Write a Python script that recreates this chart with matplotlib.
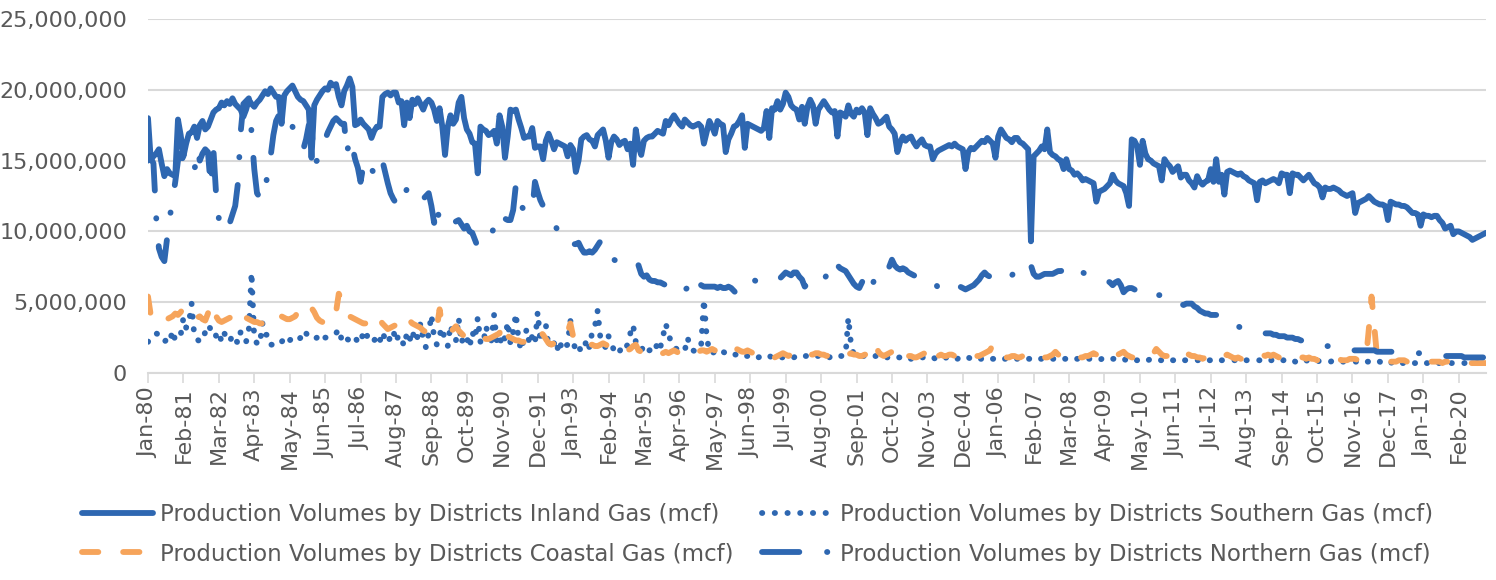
import numpy as np
import pandas as pd
import matplotlib
matplotlib.use("Agg")
import matplotlib.pyplot as plt
from matplotlib.ticker import FuncFormatter

# ---------------- data (values in millions of mcf, monthly Jan-1980 .. Dec-2020) -------------
months = pd.date_range("1980-01-01", periods=492, freq="MS")

inland_m = [
    18.0, 15.1, 15.3, 15.5, 15.8, 14.8, 13.9, 14.4, 14.1, 14.0, 13.9, 17.9,
    16.8, 15.3, 16.2, 16.9, 17.0, 17.4, 16.6, 17.5, 17.8, 17.2, 17.4, 17.9,
    18.4, 18.6, 18.7, 19.1, 18.9, 19.2, 19.0, 19.4, 19.0, 18.8, 18.6, 18.1,
    18.6, 19.3, 19.0, 18.8, 19.1, 19.3, 19.6, 19.9, 19.7, 20.1, 19.8, 19.5,
    19.5, 17.6, 19.6, 19.9, 20.1, 20.3, 19.9, 19.5, 19.3, 19.2, 18.9, 18.6,
    15.2, 18.9, 19.3, 19.6, 19.9, 20.1, 20.0, 20.5, 20.3, 20.4, 19.5, 18.9,
    19.9, 20.3, 20.8, 20.2, 17.5, 17.6, 17.9, 17.6, 17.4, 17.2, 16.6, 17.1,
    17.4, 17.4, 19.5, 19.7, 19.8, 19.6, 19.8, 19.8, 19.1, 19.2, 17.5, 19.1,
    18.0, 19.3, 19.0, 19.4, 19.0, 18.6, 19.1, 19.3, 19.1, 18.6, 17.8, 18.7,
    17.4, 15.4, 17.4, 18.2, 17.6, 17.9, 19.1, 19.5, 18.0, 17.2, 16.9, 16.3,
    16.2, 14.1, 17.4, 17.2, 17.1, 16.8, 16.9, 17.1, 16.2, 18.2, 17.4, 15.2,
    16.7, 18.6, 18.5, 18.6, 17.9, 17.3, 16.6, 16.7, 16.7, 17.3, 15.9, 16.0,
    16.0, 15.1, 16.4, 16.9, 16.4, 15.8, 16.3, 16.2, 16.1, 16.0, 15.3, 16.1,
    15.8, 14.2, 15.0, 16.5, 16.7, 16.8, 16.5, 16.4, 16.0, 16.8, 17.0, 17.2,
    16.4, 15.2, 16.3, 16.7, 16.5, 16.1, 16.3, 16.4, 15.8, 16.2, 14.7, 17.2,
    16.0, 15.4, 16.4, 16.6, 16.7, 16.7, 16.9, 17.1, 17.0, 16.9, 17.8, 17.5,
    17.9, 18.2, 17.9, 17.6, 17.4, 17.9, 17.7, 17.5, 17.4, 17.5, 17.6, 17.4,
    16.2, 17.0, 17.8, 17.4, 16.9, 17.8, 17.6, 17.5, 15.6, 16.5, 16.9, 17.4,
    17.5, 17.8, 18.2, 15.9, 17.6, 17.5, 17.4, 17.3, 17.2, 17.1, 17.3, 18.5,
    16.6, 18.7, 18.6, 19.2, 18.6, 19.0, 19.8, 19.5, 18.9, 18.7, 18.6, 17.9,
    18.8, 17.6, 18.8, 19.3, 18.9, 17.6, 18.6, 18.9, 19.2, 18.9, 18.6, 18.4,
    18.5, 16.7, 18.4, 18.3, 18.1, 18.9, 18.3, 18.1, 18.6, 18.4, 18.7, 18.4,
    16.8, 18.7, 18.3, 18.0, 17.6, 17.7, 17.9, 18.1, 17.4, 17.2, 16.9, 15.6,
    16.3, 16.7, 16.4, 16.6, 16.7, 16.3, 16.0, 16.3, 16.5, 16.1, 16.0, 16.0,
    15.1, 15.5, 15.7, 15.8, 15.9, 16.0, 16.1, 16.0, 16.2, 16.0, 15.9, 15.8,
    14.4, 15.6, 15.9, 15.8, 16.0, 16.2, 16.4, 16.3, 16.6, 16.4, 16.2, 15.2,
    16.7, 17.2, 16.9, 16.6, 16.5, 16.3, 16.6, 16.6, 16.3, 16.2, 16.0, 15.8,
    9.3, 15.3, 15.5, 15.7, 16.0, 15.8, 17.2, 15.6, 15.4, 15.3, 15.1, 15.0,
    14.4, 15.1, 14.4, 14.3, 14.0, 14.1, 13.9, 13.6, 13.7, 13.6, 13.5, 13.4,
    12.1, 12.8, 12.9, 13.0, 13.2, 13.4, 14.0, 13.6, 13.4, 13.3, 13.2, 12.7,
    11.8, 16.5, 16.4, 16.0, 14.7, 16.4, 15.5, 15.1, 15.0, 14.8, 14.7, 14.6,
    13.6, 15.1, 14.8, 14.6, 14.2, 14.4, 14.6, 13.8, 14.0, 14.0, 13.6, 13.4,
    13.1, 13.9, 13.5, 13.3, 13.5, 13.6, 14.4, 13.5, 15.1, 13.5, 14.0, 12.6,
    14.2, 14.3, 14.2, 14.1, 14.0, 14.1, 13.9, 13.8, 13.6, 13.5, 13.4, 12.2,
    13.5, 13.6, 13.4, 13.5, 13.6, 13.7, 13.6, 13.4, 14.1, 14.0, 14.0, 12.7,
    14.1, 14.0, 14.0, 13.8, 13.6, 13.8, 14.0, 13.7, 13.4, 13.3, 13.1, 12.4,
    13.1, 13.0, 13.0, 13.1, 13.0, 12.9, 12.7, 12.6, 12.5, 12.6, 12.7, 11.3,
    12.0, 12.1, 12.2, 12.3, 12.5, 12.3, 12.1, 12.0, 11.9, 11.9, 11.8, 10.8,
    12.1, 12.0, 11.9, 11.9, 11.8, 11.8, 11.7, 11.5, 11.3, 11.3, 11.2, 10.4,
    11.2, 11.1, 11.1, 11.0, 11.1, 11.1, 10.8, 10.6, 10.2, 10.3, 10.4, 9.8,
    10.0, 10.0, 9.9, 9.8, 9.7, 9.6, 9.4, 9.5, 9.6, 9.7, 9.8, 9.9,
]

southern_m = [
    2.2, 2.5, 2.6, 2.8, 2.7, 2.5, 2.2, 2.4, 2.2, 3.0, 2.3, 2.5,
    2.7, 3.9, 3.2, 3.5, 4.9, 2.6, 2.4, 2.2, 2.3, 2.9, 3.4, 3.1,
    3.2, 2.6, 2.9, 2.2, 2.8, 2.5, 2.2, 2.7, 2.4, 2.1, 2.9, 2.6,
    2.2, 3.1, 7.1, 2.4, 2.1, 2.0, 3.5, 2.7, 2.7, 2.0, 2.0, 2.2,
    2.3, 2.2, 2.4, 2.6, 2.3, 2.5, 2.4, 2.3, 2.5, 2.3, 2.8, 2.6,
    2.6, 2.4, 2.5, 2.8, 2.6, 2.5, 2.5, 2.6, 2.7, 2.8, 3.1, 2.4,
    2.7, 2.4, 2.3, 2.6, 2.5, 2.2, 2.1, 2.9, 2.5, 2.8, 2.6, 2.3,
    2.6, 2.2, 2.9, 2.4, 2.1, 2.6, 3.0, 2.2, 2.7, 2.4, 1.9, 2.8,
    2.3, 3.0, 2.2, 2.6, 3.5, 2.4, 1.8, 2.8, 4.1, 2.5, 2.0, 2.7,
    3.2, 2.2, 1.9, 3.4, 2.6, 2.3, 3.9, 2.1, 2.7, 2.5, 1.8, 2.9,
    2.4, 3.9, 2.2, 2.0, 3.3, 2.6, 2.3, 4.1, 2.2, 1.9, 2.8, 2.4,
    3.6, 2.1, 2.9, 4.2, 2.3, 1.6, 2.5, 3.1, 2.0, 2.6, 2.1, 4.3,
    2.2, 2.9, 3.4, 1.8, 2.5, 2.1, 1.5, 2.3, 1.6, 1.9, 2.0, 3.7,
    2.2, 1.6, 1.9, 1.5, 1.7, 2.4, 1.8, 2.9, 3.3, 4.4, 2.5, 2.0,
    1.8, 2.6, 2.1, 1.6, 1.8, 1.5, 1.9, 1.7, 2.0, 2.8, 3.4, 2.2,
    1.8, 1.6, 1.9, 1.5, 1.6, 1.7, 1.5, 2.2, 1.8, 2.6, 3.5, 2.7,
    2.2, 1.8, 1.7, 1.5, 1.5, 1.6, 2.5, 1.8, 1.6, 1.5, 1.6, 2.0,
    5.2, 2.6, 1.5, 1.4, 1.5, 1.3, 1.4, 1.5, 1.4, 1.3, 1.4, 1.3,
    1.3, 1.2, 1.3, 1.2, 1.2, 1.1, 1.2, 1.2, 1.1, 1.2, 1.2, 1.1,
    1.2, 1.1, 1.1, 1.2, 1.1, 1.1, 1.2, 1.1, 1.1, 1.1, 1.2, 1.2,
    1.1, 1.2, 1.2, 1.1, 1.1, 1.2, 1.2, 1.1, 1.2, 1.1, 1.1, 1.2,
    1.2, 1.3, 1.2, 1.2, 1.3, 3.9, 2.0, 1.3, 1.2, 1.2, 1.2, 1.2,
    1.2, 1.2, 1.1, 1.2, 1.2, 1.1, 1.2, 1.1, 1.1, 1.2, 1.2, 1.1,
    1.1, 1.2, 1.1, 1.1, 1.0, 1.1, 1.1, 1.0, 1.1, 1.1, 1.0, 1.1,
    1.1, 1.0, 1.1, 1.1, 1.0, 1.1, 1.0, 1.0, 1.1, 1.0, 1.1, 1.0,
    1.0, 1.1, 1.0, 1.0, 1.1, 1.0, 1.0, 1.0, 1.1, 1.0, 1.0, 1.0,
    1.0, 1.1, 1.0, 1.0, 1.0, 1.1, 1.0, 1.0, 1.0, 1.1, 1.0, 1.0,
    1.0, 1.0, 1.1, 1.0, 1.0, 1.0, 1.1, 1.0, 1.0, 1.0, 1.0, 1.1,
    1.0, 1.0, 1.0, 1.1, 1.0, 1.0, 1.0, 1.0, 0.9, 1.0, 1.0, 1.0,
    1.0, 0.9, 1.0, 1.0, 1.0, 0.9, 1.0, 1.0, 0.9, 1.0, 1.0, 0.9,
    0.9, 1.0, 0.9, 0.9, 1.0, 0.9, 0.9, 0.9, 1.0, 0.9, 0.9, 0.9,
    0.9, 0.9, 1.0, 0.9, 0.9, 0.9, 0.9, 1.0, 0.9, 0.9, 0.9, 0.9,
    0.9, 0.9, 0.9, 1.0, 0.9, 0.9, 0.9, 0.9, 0.9, 1.0, 0.9, 0.9,
    0.9, 0.9, 0.9, 0.9, 0.9, 1.0, 0.9, 0.9, 0.9, 0.9, 0.9, 0.9,
    0.9, 0.9, 0.9, 0.8, 0.9, 0.9, 0.9, 0.8, 0.9, 0.9, 0.9, 0.8,
    0.9, 0.8, 0.9, 0.8, 0.8, 0.9, 0.8, 0.8, 0.8, 0.9, 0.8, 0.8,
    0.8, 0.8, 0.8, 0.9, 0.8, 0.8, 0.8, 0.8, 0.8, 0.8, 0.8, 0.8,
    0.8, 0.8, 0.7, 0.8, 0.8, 0.8, 0.7, 0.8, 0.8, 0.7, 0.8, 0.8,
    0.7, 0.8, 0.7, 0.8, 0.7, 0.7, 0.8, 0.7, 0.7, 0.7, 0.8, 0.7,
    0.7, 0.7, 0.7, 0.7, 0.8, 0.7, 0.7, 0.7, 0.7, 0.7, 0.7, 0.7,
    0.7, 0.7, 0.7, 0.7, 0.7, 0.7, 0.7, 0.7, 0.7, 0.7, 0.7, 0.7,
]

coastal_m = [
    5.4, 4.1, 3.9, 3.7, 3.8, 3.6, 3.7, 3.8, 3.9, 4.0, 4.2, 4.1,
    4.3, 4.6, 4.4, 4.2, 4.3, 4.1, 3.9, 4.0, 3.8, 3.7, 4.2, 4.9,
    4.5, 4.0, 3.7, 3.6, 3.7, 3.8, 3.9, 4.0, 4.2, 4.1, 4.4, 4.2,
    3.9, 3.8, 3.7, 3.6, 3.6, 3.5, 3.5, 3.6, 3.8, 3.9, 4.0, 4.2,
    4.2, 4.0, 3.9, 3.8, 3.8, 3.9, 4.0, 4.3, 4.0, 4.2, 4.4, 4.6,
    4.6, 4.3, 3.9, 3.7, 3.6, 3.9, 4.2, 4.4, 4.5, 4.3, 5.6, 5.2,
    4.8, 4.4, 4.0, 3.9, 3.8, 3.7, 3.6, 3.5, 3.5, 3.6, 3.5, 3.4,
    3.9, 3.8, 3.5, 3.3, 3.1, 3.2, 3.3, 3.4, 3.3, 3.6, 3.8, 4.0,
    3.7, 3.5, 3.4, 3.3, 3.2, 3.0, 2.9, 2.8, 2.7, 2.8, 3.2, 4.5,
    3.3, 3.1, 3.0, 2.9, 3.1, 3.3, 3.0, 2.8, 2.6, 2.7, 2.8, 2.8,
    2.7, 2.6, 2.6, 2.5, 2.4, 2.4, 2.5, 2.6, 2.7, 2.8, 3.5, 2.8,
    2.6, 2.5, 2.4, 2.3, 2.3, 2.2, 2.2, 2.1, 2.1, 2.3, 2.5, 2.7,
    2.9, 2.7, 2.4, 2.1, 2.0, 2.1, 2.2, 2.2, 2.3, 2.4, 2.9, 3.5,
    2.6, 2.2, 2.1, 2.0, 1.9, 1.9, 2.0, 2.0, 1.9, 1.9, 2.0, 2.1,
    2.0, 1.9, 1.8, 1.7, 1.6, 1.6, 1.5, 1.5, 1.6, 1.7, 1.9, 2.0,
    1.6, 1.5, 1.5, 1.4, 1.5, 1.4, 1.4, 1.3, 1.4, 1.4, 1.5, 1.4,
    1.5, 1.6, 1.5, 1.4, 1.5, 1.5, 1.4, 1.4, 1.3, 1.4, 1.5, 1.6,
    1.6, 1.5, 1.6, 1.7, 1.6, 1.6, 1.7, 1.8, 1.7, 1.6, 1.5, 1.6,
    1.7, 1.6, 1.5, 1.5, 1.6, 1.5, 1.4, 1.4, 1.3, 1.3, 1.2, 1.2,
    1.3, 1.2, 1.1, 1.2, 1.3, 1.4, 1.3, 1.2, 1.3, 1.4, 1.5, 1.5,
    1.4, 1.5, 1.4, 1.3, 1.3, 1.4, 1.4, 1.3, 1.3, 1.2, 1.3, 1.4,
    1.4, 1.3, 1.3, 1.4, 1.4, 1.3, 1.4, 1.3, 1.3, 1.2, 1.2, 1.3,
    1.3, 1.4, 1.6, 2.1, 1.5, 1.3, 1.2, 1.3, 1.4, 1.5, 1.8, 1.9,
    1.6, 1.4, 1.3, 1.2, 1.2, 1.1, 1.1, 1.2, 1.3, 1.4, 1.8, 1.9,
    1.5, 1.2, 1.2, 1.3, 1.2, 1.2, 1.3, 1.3, 1.2, 1.2, 1.2, 1.3,
    1.3, 1.2, 1.2, 1.1, 1.2, 1.2, 1.3, 1.4, 1.5, 1.6, 2.0, 1.8,
    1.3, 1.2, 1.2, 1.1, 1.1, 1.2, 1.2, 1.1, 1.1, 1.2, 1.2, 1.1,
    1.2, 1.1, 1.1, 1.2, 1.2, 1.1, 1.1, 1.2, 1.3, 1.5, 1.3, 1.2,
    1.1, 1.1, 1.1, 1.2, 1.1, 1.0, 1.1, 1.1, 1.2, 1.2, 1.3, 1.4,
    1.3, 1.2, 1.1, 1.1, 1.2, 1.1, 1.2, 1.2, 1.3, 1.4, 1.5, 1.3,
    1.2, 1.1, 1.1, 1.1, 1.2, 1.1, 1.1, 1.2, 1.3, 1.4, 1.7, 1.5,
    1.3, 1.2, 1.2, 1.1, 1.1, 1.0, 1.1, 1.1, 1.3, 1.4, 1.3, 1.2,
    1.2, 1.1, 1.1, 1.0, 1.1, 1.0, 1.0, 1.1, 1.2, 1.3, 1.3, 1.2,
    1.3, 1.2, 1.1, 1.0, 1.1, 1.0, 1.0, 1.1, 1.2, 1.3, 1.3, 1.3,
    1.3, 1.3, 1.2, 1.3, 1.2, 1.3, 1.2, 1.1, 1.0, 1.0, 1.1, 1.1,
    1.2, 1.1, 1.1, 1.1, 1.1, 1.0, 1.1, 1.0, 1.0, 0.9, 1.0, 1.0,
    0.9, 1.0, 1.0, 1.0, 1.0, 1.0, 0.9, 0.9, 0.9, 1.0, 1.0, 1.0,
    0.9, 0.9, 1.0, 1.1, 3.1, 5.4, 3.3, 1.2, 0.9, 0.9, 0.8, 0.8,
    0.8, 0.8, 0.8, 0.9, 0.9, 0.9, 0.8, 0.8, 0.8, 0.8, 0.8, 0.8,
    0.8, 0.8, 0.8, 0.8, 0.8, 0.8, 0.8, 0.7, 0.8, 0.8, 0.8, 0.8,
    0.8, 0.8, 0.8, 0.8, 0.7, 0.7, 0.7, 0.7, 0.7, 0.7, 0.7, 0.7,
]

northern_m = [
    15.0, 15.2, 14.8, 11.0, 8.8, 8.2, 7.9, 9.5, 11.0, 12.2, 13.5, 15.0,
    15.5, 15.0, 14.8, 15.0, 14.6, 14.2, 15.8, 15.0, 15.5, 15.8, 15.6, 13.2,
    15.8, 12.6, 10.9, 10.4, 10.0, 10.0, 10.6, 11.2, 11.8, 13.4, 17.0, 19.0,
    19.2, 19.4, 17.0, 14.4, 12.7, 12.4, 12.2, 13.0, 14.2, 15.3, 16.8, 17.8,
    18.2, 18.6, 18.3, 18.0, 17.6, 17.4, 17.0, 16.6, 16.2, 15.8, 16.5, 17.5,
    17.4, 14.8, 15.0, 15.4, 16.0, 16.5, 17.0, 17.4, 17.8, 18.0, 17.8, 17.6,
    17.6, 15.5, 16.6, 16.0, 15.1, 14.5, 13.5, 14.6, 14.8, 15.1, 14.4, 14.1,
    15.1, 15.0, 15.0, 14.2, 13.4, 12.7, 12.3, 12.0, 11.8, 11.7, 12.5, 13.0,
    12.8, 12.6, 12.4, 12.2, 12.0, 12.3, 12.5, 12.7, 11.8, 10.6, 11.9, 10.6,
    10.8, 10.6, 10.5, 10.5, 10.6, 10.7, 10.8, 10.5, 10.2, 10.4, 10.0, 9.9,
    9.4, 8.9, 9.0, 9.2, 9.3, 9.4, 9.8, 10.3, 10.6, 11.3, 11.0, 10.9,
    10.8, 10.8, 11.5, 13.3, 12.4, 11.8, 11.5, 11.4, 11.4, 11.4, 13.5, 12.8,
    12.2, 11.8, 11.4, 11.0, 10.9, 10.5, 10.2, 10.1, 10.0, 10.1, 9.6, 9.3,
    9.1, 9.1, 9.2, 8.8, 8.5, 8.5, 8.6, 8.5, 8.7, 9.0, 9.3, 9.0,
    8.4, 8.1, 8.2, 8.0, 7.9, 7.9, 7.9, 8.0, 8.0, 8.0, 8.0, 8.0,
    7.6, 7.0, 6.8, 6.9, 6.6, 6.5, 6.5, 6.4, 6.4, 6.3, 6.2, 6.2,
    6.3, 6.3, 6.2, 6.4, 6.1, 5.9, 6.0, 6.2, 6.5, 6.9, 6.4, 6.2,
    6.1, 6.1, 6.1, 6.1, 6.1, 6.0, 6.1, 6.0, 6.0, 6.1, 6.0, 5.8,
    5.6, 5.8, 6.1, 6.3, 6.5, 6.6, 6.6, 6.5, 6.5, 6.5, 6.5, 6.5,
    6.5, 6.4, 6.4, 6.6, 6.7, 6.9, 7.1, 7.0, 6.9, 7.1, 7.1, 6.8,
    6.6, 6.1, 6.3, 6.6, 6.8, 6.9, 6.8, 6.7, 6.6, 6.9, 7.4, 8.0,
    7.9, 7.6, 7.4, 7.3, 7.2, 6.9, 6.6, 6.3, 6.1, 6.0, 6.4, 6.8,
    6.3, 5.9, 6.3, 6.9, 7.0, 7.1, 7.2, 7.0, 7.5, 8.0, 7.6, 7.4,
    7.3, 7.4, 7.3, 7.1, 7.0, 6.9, 6.8, 6.8, 6.7, 6.7, 6.6, 6.7,
    6.5, 6.3, 6.0, 5.9, 5.8, 5.9, 5.8, 5.8, 5.8, 5.9, 6.1, 6.0,
    5.9, 6.0, 6.1, 6.2, 6.4, 6.6, 6.9, 7.1, 6.9, 6.8, 6.6, 6.4,
    6.4, 6.5, 6.6, 6.7, 6.8, 6.9, 7.1, 7.3, 7.5, 7.7, 7.8, 7.9,
    7.6, 7.0, 6.8, 6.8, 6.9, 7.0, 7.0, 7.0, 7.0, 7.1, 7.2, 7.2,
    7.3, 7.2, 7.4, 7.5, 7.3, 7.4, 7.2, 7.1, 7.0, 7.0, 6.9, 6.8,
    6.8, 6.8, 6.7, 6.6, 6.5, 6.4, 6.2, 6.4, 6.5, 6.2, 5.7, 5.9,
    6.0, 6.0, 5.9, 5.8, 5.6, 5.5, 5.4, 5.3, 5.3, 5.3, 5.4, 5.5,
    5.5, 5.4, 5.2, 5.0, 4.9, 4.8, 4.8, 4.9, 4.8, 4.9, 4.9, 4.9,
    4.7, 4.6, 4.4, 4.3, 4.2, 4.2, 4.1, 4.1, 4.1, 4.0, 4.0, 3.7,
    3.5, 3.4, 3.3, 3.3, 3.3, 3.2, 3.2, 3.2, 3.1, 3.1, 3.0, 3.0,
    2.9, 2.9, 2.8, 2.8, 2.8, 2.7, 2.7, 2.6, 2.6, 2.6, 2.5, 2.5,
    2.5, 2.4, 2.4, 2.3, 2.3, 2.2, 2.2, 2.1, 2.1, 2.0, 2.0, 1.9,
    1.9, 1.9, 1.8, 1.8, 1.8, 1.8, 1.7, 1.7, 1.7, 1.7, 1.6, 1.6,
    1.6, 1.6, 1.6, 1.6, 1.6, 1.6, 1.6, 1.5, 1.5, 1.5, 1.5, 1.5,
    1.5, 1.5, 1.5, 1.5, 1.4, 1.4, 1.4, 1.4, 1.4, 1.4, 1.4, 1.4,
    1.4, 1.4, 1.3, 1.3, 1.3, 1.3, 1.3, 1.3, 1.2, 1.2, 1.2, 1.2,
    1.2, 1.2, 1.2, 1.1, 1.1, 1.1, 1.1, 1.1, 1.1, 1.1, 1.1, 1.1,
]

tick_labels = ["Jan-80", "Feb-81", "Mar-82", "Apr-83", "May-84", "Jun-85", "Jul-86",
               "Aug-87", "Sep-88", "Oct-89", "Nov-90", "Dec-91", "Jan-93", "Feb-94",
               "Mar-95", "Apr-96", "May-97", "Jun-98", "Jul-99", "Aug-00", "Sep-01",
               "Oct-02", "Nov-03", "Dec-04", "Jan-06", "Feb-07", "Mar-08", "Apr-09",
               "May-10", "Jun-11", "Jul-12", "Aug-13", "Sep-14", "Oct-15", "Nov-16",
               "Dec-17", "Jan-19", "Feb-20"]
series_names = ["Production Volumes by Districts Inland Gas (mcf)",
                "Production Volumes by Districts Southern Gas (mcf)",
                "Production Volumes by Districts Coastal Gas (mcf)",
                "Production Volumes by Districts Northern Gas (mcf)"]

# ---------------- drawing -------------
BLUE = "#2E67B1"
ORANGE = "#F6A45B"
TEXT = "#595959"
GRID = "#D9D9D9"
LW = 4.2

plt.rcParams["font.family"] = ["DejaVu Sans"]

fig = plt.figure(figsize=(14.96, 5.80), dpi=100)
ax = fig.add_axes([148 / 1496, 1 - 373 / 580, (1486 - 148) / 1496, (373 - 19) / 580])

x = np.arange(len(months))
common = dict(linewidth=LW, solid_capstyle="round", solid_joinstyle="round",
              dash_capstyle="round", dash_joinstyle="round")

l_in, = ax.plot(x, np.array(inland_m) * 1e6, color=BLUE, label=series_names[0], **common)
l_so, = ax.plot(x, np.array(southern_m) * 1e6, color=BLUE, label=series_names[1],
                dashes=(0.05, 2.13), **common)
l_co, = ax.plot(x, np.array(coastal_m) * 1e6, color=ORANGE, label=series_names[2],
                dashes=(2.8, 4.25), **common)
l_no, = ax.plot(x, np.array(northern_m) * 1e6, color=BLUE, label=series_names[3],
                dashes=(6.4, 4.75, 0.05, 4.75), **common)

ax.set_xlim(0, len(months) - 1)
ax.set_ylim(0, 25e6)
ax.set_yticks(np.arange(0, 25e6 + 1, 5e6))
ax.yaxis.set_major_formatter(FuncFormatter(lambda v, p: f"{v:,.0f}"))
ax.grid(axis="y", color=GRID, linewidth=1.5)
ax.set_axisbelow(True)

ax.set_xticks(np.arange(0, len(months), 13)[:len(tick_labels)])
ax.set_xticklabels(tick_labels, rotation=90, ha="center", va="top")

for s in ["top", "right", "left"]:
    ax.spines[s].set_visible(False)
ax.spines["bottom"].set_color(GRID)
ax.spines["bottom"].set_linewidth(1.5)
ax.tick_params(axis="y", length=0, pad=15, labelsize=16, labelcolor=TEXT)
ax.tick_params(axis="x", length=7, width=1.2, color=GRID, pad=3, labelsize=16, labelcolor=TEXT)

leg = fig.legend([l_in, l_co, l_so, l_no],
                 [series_names[0], series_names[2], series_names[1], series_names[3]],
                 ncol=2, loc="upper left", bbox_to_anchor=(82 / 1496, 1 - 503 / 580),
                 frameon=False, fontsize=16.5, handlelength=3.1, handletextpad=0.3,
                 columnspacing=1.25, labelspacing=0.72, borderpad=0, borderaxespad=0)
for t in leg.get_texts():
    t.set_color(TEXT)

fig.savefig("out.png", dpi=100)
